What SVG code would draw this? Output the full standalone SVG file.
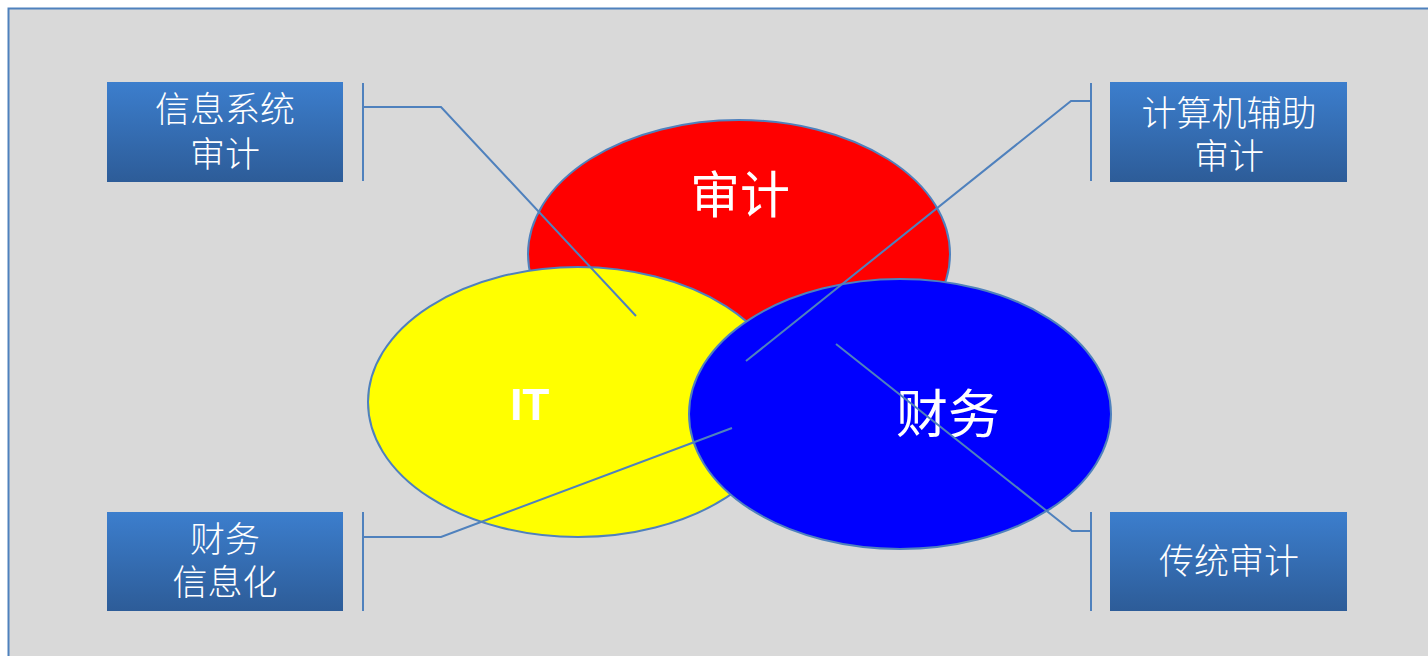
<svg xmlns="http://www.w3.org/2000/svg" width="1428" height="656" viewBox="0 0 1428 656">
<defs>
<linearGradient id="boxg" x1="0" y1="0" x2="0" y2="1">
<stop offset="0" stop-color="#3c7ecd"/>
<stop offset="1" stop-color="#2d5c98"/>
</linearGradient>
<style>
.box{fill:url(#boxg);}
.bt{fill:#ffffff;font-family:"Noto Sans CJK SC","Noto Sans",sans-serif;font-weight:300;font-size:35px;text-anchor:middle;}
.ell{stroke:#4f81bd;stroke-width:2;}
.big{fill:#ffffff;font-family:"Noto Sans CJK SC",sans-serif;text-anchor:middle;}
.conn{fill:none;stroke:#4f81bd;stroke-width:2;}
</style>
</defs>
<rect x="0" y="0" width="1428" height="656" fill="#ffffff"/>
<rect x="8.5" y="8.5" width="1440" height="680" fill="#d9d9d9" stroke="#4f81bd" stroke-width="2"/>
<g id="audit"><ellipse class="ell" cx="739" cy="254" rx="211" ry="134" fill="#ff0000"/><text class="big" x="740" y="213" font-size="50">审计</text></g>
<g id="it"><ellipse class="ell" cx="578" cy="402" rx="210" ry="135" fill="#ffff00"/><text x="530" y="420" fill="#ffffff" font-family="Liberation Sans,Arial,sans-serif" font-weight="bold" font-size="44" text-anchor="middle">IT</text></g>
<g id="finance"><ellipse class="ell" cx="900" cy="414" rx="211" ry="135" fill="#0000ff"/><text class="big" x="948" y="433" font-size="52">财务</text></g>
<g id="connectors">
<path class="conn" d="M363 83V181M363 107H441L636 316"/>
<path class="conn" d="M1091 83V181M1091 101H1071L746 361"/>
<path class="conn" d="M363 512V611M363 537H441L732 428"/>
<path class="conn" d="M1091 512V611M1091 531H1072L836 344"/>
</g>
<g id="box-isaudit"><rect class="box" x="107" y="82" width="236" height="100"/><text class="bt" x="225" y="122">信息系统</text><text class="bt" x="225" y="167">审计</text></g>
<g id="box-caa"><rect class="box" x="1110" y="82" width="237" height="100"/><text class="bt" x="1229" y="126">计算机辅助</text><text class="bt" x="1229" y="169">审计</text></g>
<g id="box-fi"><rect class="box" x="107" y="512" width="236" height="99"/><text class="bt" x="225" y="552">财务</text><text class="bt" x="225" y="595">信息化</text></g>
<g id="box-ta"><rect class="box" x="1110" y="512" width="237" height="99"/><text class="bt" x="1229" y="574">传统审计</text></g>
</svg>
